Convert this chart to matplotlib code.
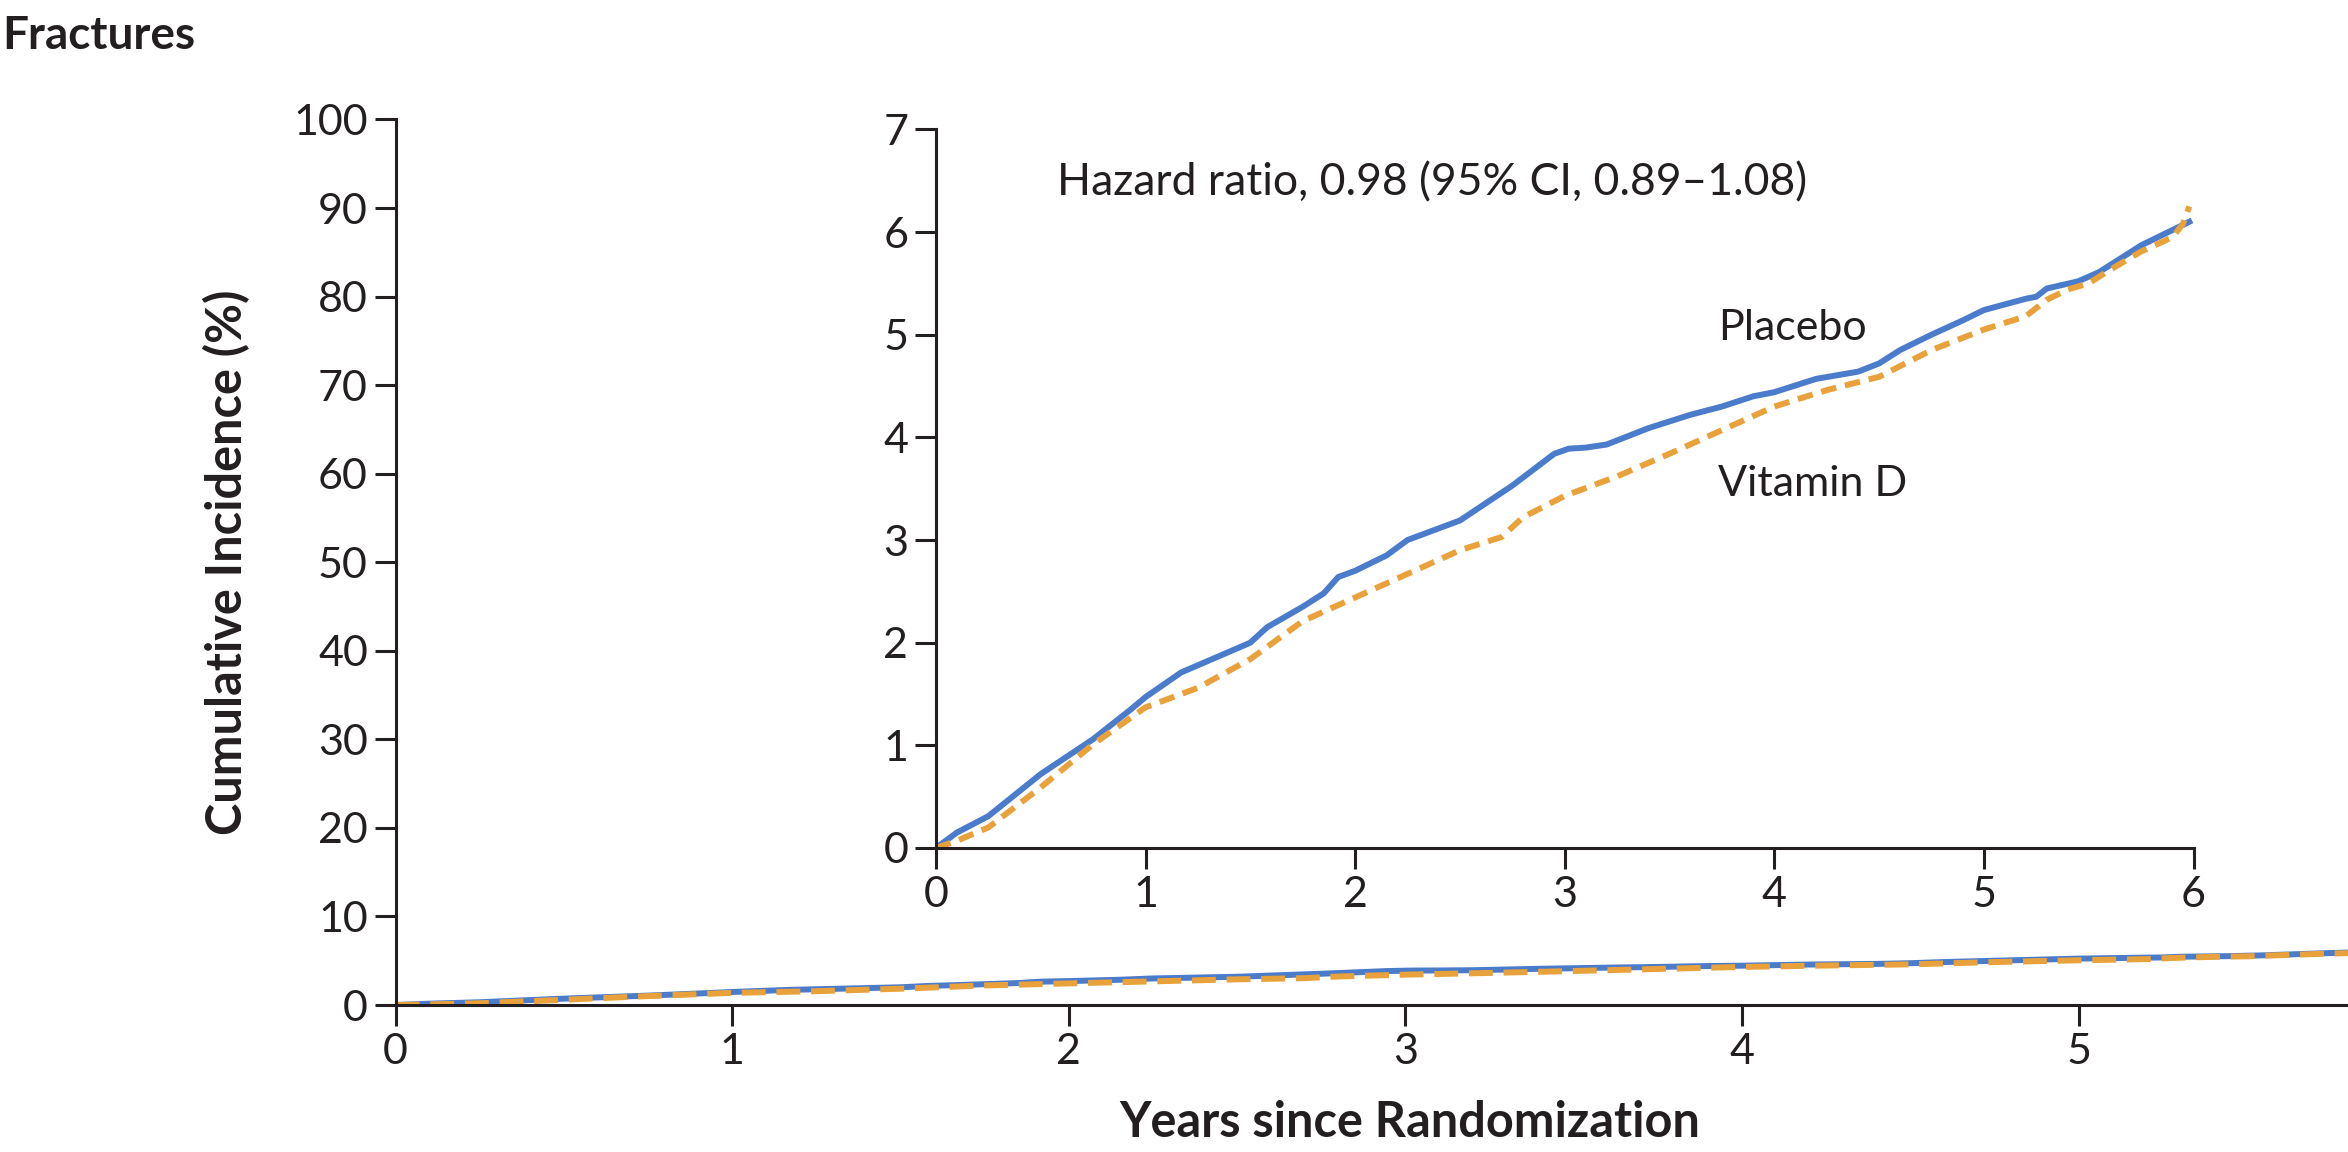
import matplotlib
matplotlib.use("Agg")
import matplotlib.pyplot as plt

# Kaplan-Meier style cumulative incidence (%)
placebo_years = [0, 0.1, 0.25, 0.5, 0.75, 0.93, 1.0, 1.17, 1.25, 1.5, 1.58, 1.75, 1.85, 1.92,
                 2.0, 2.15, 2.25, 2.5, 2.75, 2.95, 3.02, 3.1, 3.2, 3.4, 3.6, 3.75, 3.9, 4.0,
                 4.2, 4.4, 4.5, 4.6, 4.75, 4.9, 5.0, 5.2, 5.25, 5.3, 5.45, 5.55, 5.65, 5.75,
                 5.85, 5.95, 5.98]
placebo_pct = [0, 0.15, 0.31, 0.72, 1.06, 1.35, 1.47, 1.71, 1.78, 2.0, 2.15, 2.35, 2.48, 2.64,
               2.7, 2.85, 3.0, 3.19, 3.53, 3.84, 3.89, 3.9, 3.93, 4.09, 4.22, 4.3, 4.4, 4.44,
               4.57, 4.64, 4.72, 4.85, 5.0, 5.14, 5.24, 5.35, 5.37, 5.45, 5.52, 5.61, 5.74, 5.87,
               5.97, 6.07, 6.1]

vitd_years = [0, 0.1, 0.25, 0.5, 0.75, 1.0, 1.25, 1.5, 1.75, 2.0, 2.25, 2.5, 2.7, 2.8, 3.0,
              3.25, 3.5, 3.75, 4.0, 4.25, 4.5, 4.75, 5.0, 5.2, 5.3, 5.4, 5.5, 5.6, 5.75, 5.9,
              5.95, 5.98]
vitd_pct = [0, 0.07, 0.2, 0.59, 1.01, 1.37, 1.56, 1.84, 2.21, 2.44, 2.67, 2.9, 3.03, 3.22, 3.43,
            3.62, 3.84, 4.07, 4.3, 4.46, 4.59, 4.85, 5.05, 5.18, 5.34, 5.44, 5.5, 5.63, 5.81, 5.95,
            6.08, 6.25]

main_yticks = [0, 10, 20, 30, 40, 50, 60, 70, 80, 90, 100]
main_xticks = [0, 1, 2, 3, 4, 5]
inset_yticks = [0, 1, 2, 3, 4, 5, 6, 7]
inset_xticks = [0, 1, 2, 3, 4, 5, 6]

blue = "#4b7bcb"
orange = "#e9a23b"
ink = "#231f20"

plt.rcParams["font.family"] = ["Lato", "DejaVu Sans"]

fig = plt.figure(figsize=(23.48, 11.52), dpi=100)

def style(ax):
    for s in ["top", "right"]:
        ax.spines[s].set_visible(False)
    for s in ["left", "bottom"]:
        ax.spines[s].set_linewidth(2.2)
        ax.spines[s].set_color(ink)
    ax.tick_params(direction="out", length=15, width=2.2, colors=ink,
                   labelsize=31, pad=5)

# main axes 0-100 %
ax = fig.add_axes([0.1685, 0.1276, 0.8315, 0.7687])
ax.plot(placebo_years, placebo_pct, color=blue, lw=4.3)
ax.plot(vitd_years, vitd_pct, color=orange, lw=4.3, dashes=(4, 1.8))
ax.set_xlim(0, 5.8)
ax.set_ylim(0, 100)
ax.set_xticks(main_xticks)
ax.set_yticks(main_yticks)
style(ax)
ax.patch.set_alpha(0)

# inset 0-7 %
ins = fig.add_axes([0.3986, 0.2639, 0.5356, 0.6238])
ins.plot(placebo_years, placebo_pct, color=blue, lw=4.3)
ins.plot(vitd_years, vitd_pct, color=orange, lw=4.3, dashes=(2.6, 1.5))
ins.set_xlim(0, 6)
ins.set_ylim(0, 7)
ins.set_xticks(inset_xticks)
ins.set_yticks(inset_yticks)
style(ins)
ins.patch.set_alpha(0)

ins.text(0.58, 6.48, "Hazard ratio, 0.98 (95% CI, 0.89\u20131.08)", fontsize=32,
         color=ink, va="center", ha="left")
ins.text(3.73, 5.07, "Placebo", fontsize=31, color=ink, va="center", ha="left")
ins.text(3.73, 3.55, "Vitamin D", fontsize=31, color=ink, va="center", ha="left")

fig.text(0.001, 0.969, "Fractures", fontsize=33, fontweight="bold", color=ink,
         va="center", ha="left")
fig.text(0.6005, 0.026, "Years since Randomization", fontsize=35, fontweight="bold",
         color=ink, va="center", ha="center")
fig.text(0.0967, 0.512, "Cumulative Incidence (%)", fontsize=35, fontweight="bold",
         color=ink, va="center", ha="center", rotation=90)

fig.savefig("out.png", dpi=100)
